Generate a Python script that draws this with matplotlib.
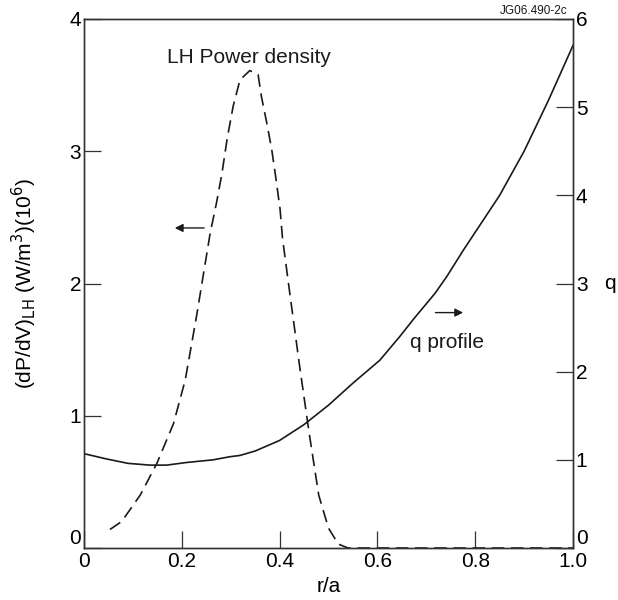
import matplotlib
matplotlib.use("Agg")
import matplotlib.pyplot as plt

# LH power density (left axis, 10^6 W/m^3)
r_lh = [0.053, 0.077, 0.115, 0.149, 0.183, 0.207, 0.23, 0.258, 0.271, 0.282, 0.293,
        0.305, 0.319, 0.339, 0.356, 0.363, 0.374, 0.384, 0.393, 0.401, 0.406, 0.42,
        0.44, 0.46, 0.48, 0.50, 0.52, 0.54, 0.6, 0.8, 1.0]
p_lh = [0.14, 0.20, 0.40, 0.64, 0.94, 1.27, 1.75, 2.38, 2.61, 2.83, 3.10,
        3.34, 3.54, 3.61, 3.58, 3.41, 3.21, 3.01, 2.78, 2.56, 2.34, 1.95,
        1.40, 0.88, 0.40, 0.15, 0.03, 0.0, 0.0, 0.0, 0.0]

# q profile (right axis)
r_q = [0.0, 0.046, 0.09, 0.135, 0.169, 0.21, 0.264, 0.298, 0.319, 0.35, 0.4, 0.45,
       0.5, 0.55, 0.605, 0.646, 0.673, 0.718, 0.742, 0.776, 0.85, 0.9, 0.95, 1.0]
q_val = [1.07, 1.01, 0.96, 0.94, 0.94, 0.97, 1.0, 1.035, 1.05, 1.1, 1.22, 1.4,
         1.62, 1.87, 2.13, 2.40, 2.59, 2.89, 3.08, 3.38, 4.0, 4.5, 5.08, 5.70]

x_ticks = [0, 0.2, 0.4, 0.6, 0.8, 1.0]
x_labels = ["0", "0.2", "0.4", "0.6", "0.8", "1.0"]
left_ticks = [0, 1, 2, 3, 4]
right_ticks = [0, 1, 2, 3, 4, 5, 6]

plt.rcParams['font.family'] = ['Liberation Sans', 'DejaVu Sans']

W, H = 618, 600
fig = plt.figure(figsize=(W / 100, H / 100), dpi=100)
ax = fig.add_axes([84 / W, 52 / H, 489 / W, 529 / H])
ax2 = ax.twinx()

ink = '#1a1a1a'
ax.plot(r_lh, p_lh, color=ink, lw=1.2, linestyle=(0, (7.5, 4)))
ax2.plot(r_q, q_val, color=ink, lw=1.2)

ax.set_xlim(0, 1.0)
ax.set_ylim(0, 4)
ax2.set_ylim(0, 6)

ax.set_xticks(x_ticks)
ax.set_xticklabels(x_labels)
ax.set_yticks(left_ticks)
ax2.set_yticks(right_ticks)

for a in (ax, ax2):
    for s in a.spines.values():
        s.set_color('#333333')
        s.set_linewidth(1.0)

ax.tick_params(axis='x', direction='in', length=12, width=0.9, color='#333333',
               labelsize=15, pad=3, top=False)
ax.tick_params(axis='y', direction='in', length=12, width=0.9, color='#333333',
               labelsize=15, pad=2)
ax2.tick_params(axis='y', direction='in', length=12, width=0.9, color='#333333',
                labelsize=15, pad=2)

# zero labels on the vertical axes sit just above the bottom spine
ax.yaxis.get_major_ticks()[0].label1.set_verticalalignment('bottom')
ax2.yaxis.get_major_ticks()[0].label2.set_verticalalignment('bottom')

ax.set_xlabel("r/a", fontsize=15, labelpad=4)
ax.set_ylabel(r"(dP/dV)$_{\mathrm{LH}}$ (W/m$^3$)(10$^6$)", fontsize=15, labelpad=22)
ax2.set_ylabel("q", fontsize=15, rotation=0, labelpad=16, va='center')

ax.text(0.17, 0.928, "LH Power density", transform=ax.transAxes, fontsize=15,
        ha='left', va='center', color=ink)
ax.text(0.667, 0.389, "q profile", transform=ax.transAxes, fontsize=15,
        ha='left', va='center', color=ink)
ax.text(0.988, 1.004, "JG06.490-2c", transform=ax.transAxes, fontsize=8.5,
        ha='right', va='bottom', color=ink)

ax.annotate("", xy=(0.18, 0.605), xytext=(0.2515, 0.605), xycoords='axes fraction',
            arrowprops=dict(arrowstyle='-|>', color=ink, lw=1.0, mutation_scale=12))
ax.annotate("", xy=(0.781, 0.445), xytext=(0.713, 0.445), xycoords='axes fraction',
            arrowprops=dict(arrowstyle='-|>', color=ink, lw=1.0, mutation_scale=12))

fig.savefig("out.png", dpi=100)
